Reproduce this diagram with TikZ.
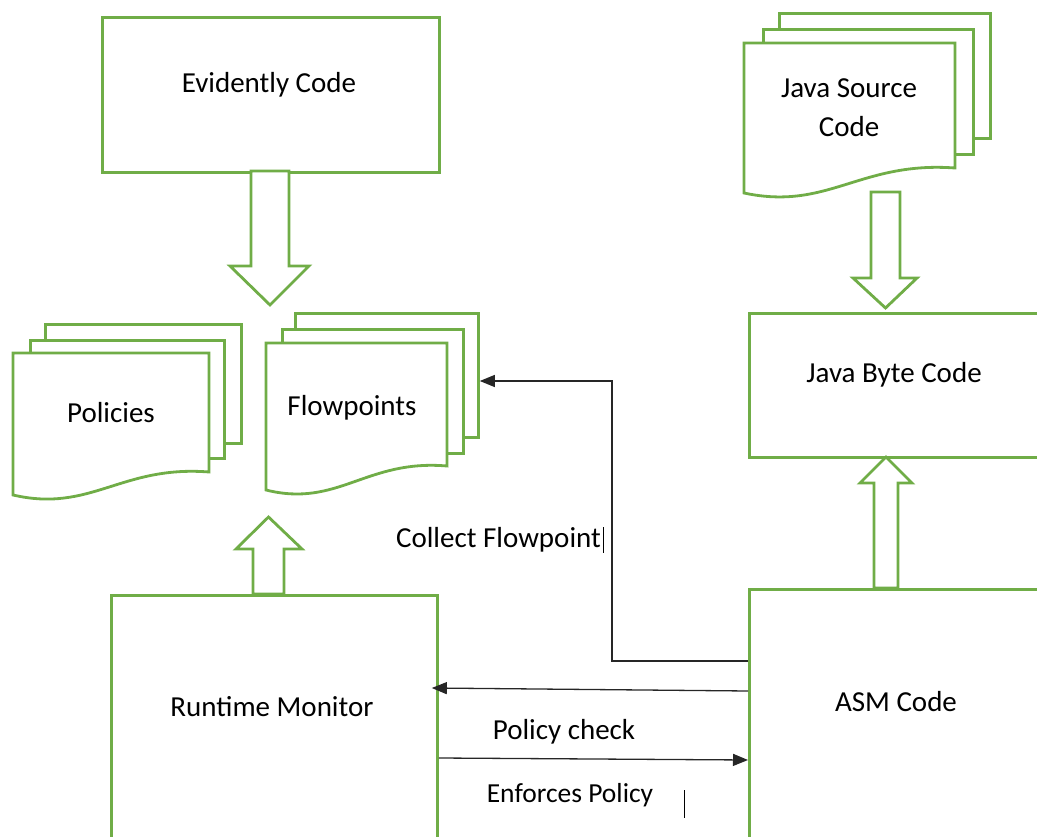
\documentclass[tikz,border=0pt]{standalone}
\usepackage{fontspec}
\setmainfont{Carlito}
\usetikzlibrary{arrows.meta,calc}
\definecolor{offgreen}{HTML}{70AD47}
\begin{document}
\begin{tikzpicture}[x=1pt,y=-1pt,
  gbox/.style={draw=offgreen, line width=2.8pt, fill=white, rectangle, inner sep=0pt, anchor=north west},
  lbl/.style={font=\fontsize{29}{34}\selectfont, text height=19pt, text depth=0pt, inner sep=0pt},
  smlbl/.style={font=\fontsize{27.5}{32}\selectfont, text height=18pt, text depth=0pt, inner sep=0pt},
  blk/.style={draw=offgreen, line width=2.8pt, fill=white, line join=miter},
  conn/.style={draw=black!85, line width=1.3pt},
  endtip/.style={-{Triangle[length=15pt,width=12pt]}},
  caretbar/.style={draw=black, line width=1pt}]
\useasboundingbox (0,0) rectangle (1037,837);
\clip (0,0) rectangle (1037,837);

% main boxes
\node[gbox, minimum width=337pt, minimum height=155pt] (ev) at (101,16) {};
\node[gbox, minimum width=400pt, minimum height=144pt] (jbc) at (748,312) {};
\node[gbox, minimum width=400pt, minimum height=400pt] (asm) at (748,588) {};
\node[gbox, minimum width=326pt, minimum height=400pt] (rt) at (110,594) {};

% Policies stack
\node[gbox, minimum width=196pt, minimum height=119pt] (pol3) at (44,323) {};
\node[gbox, minimum width=194pt, minimum height=118pt] (pol2) at (29,339) {};
\draw[blk] (13,495) -- (13,353) -- (209,353) -- (209,472) .. controls (121,465) and (91,513) .. (13,495) -- cycle;

% Flowpoints stack
\node[gbox, minimum width=183pt, minimum height=124pt] (fp3) at (294,312) {};
\node[gbox, minimum width=181pt, minimum height=124pt] (fp2) at (281,328) {};
\draw[blk] (266,490) -- (266,343) -- (447,343) -- (447,466) .. controls (366,459) and (338,508) .. (266,490) -- cycle;

% Java source stack
\node[gbox, minimum width=211pt, minimum height=125pt] (js3) at (778,12) {};
\node[gbox, minimum width=210pt, minimum height=125pt] (js2) at (762,28) {};
\draw[blk] (744,193) -- (744,43) -- (955,43) -- (955,168) .. controls (860,161) and (828,211) .. (744,193) -- cycle;

% block arrows
\draw[blk] (251,171) -- (251,266) -- (230,266) -- (270,305) -- (309,266) -- (289,266) -- (289,171) -- cycle;
\draw[blk] (871,192) -- (871,278) -- (853,278) -- (885.5,308) -- (917,278) -- (900,278) -- (900,192) -- cycle;
\draw[blk] (874,588) -- (874,483) -- (860,483) -- (886,457) -- (912,483) -- (898,483) -- (898,588) -- cycle;
\draw[blk] (253,594) -- (253,549) -- (236,549) -- (268.5,517) -- (302,549) -- (284,549) -- (284,594) -- cycle;

% labels
\node[lbl] (evt) at (269,83) {Evidently Code};
\node[lbl] (polt) at (111,413) {Policies};
\node[lbl] (fpt) at (352,406) {Flowpoints};
\node[lbl] (jst1) at (849,88) {Java Source};
\node[lbl] (jst2) at (849,127) {Code};
\node[lbl] (jbct) at (894,373) {Java Byte Code};
\node[lbl] (rtt) at (272,707) {Runtime Monitor};
\node[lbl] (asmt) at (896,702) {ASM Code};
\node[lbl] (cft) at (498.5,538) {Collect Flowpoint};
\node[lbl] (pct) at (564,730) {Policy check};
\node[smlbl] (ept) at (570,793) {Enforces Policy};

% connectors
\draw[conn,endtip] (asm.west |- 0,661) -| (612,381) -- (fp3.east |- 0,381);
\draw[conn,endtip] (asm.west |- 0,691) -- ($(rt.east |- 0,688)+(-7,0)$);
\draw[conn,endtip] (rt.east |- 0,758) -- (asm.west |- 0,760);

% text cursors
\draw[caretbar] (603,527) -- (603,553);
\draw[caretbar] (684,790) -- (684,818);
\end{tikzpicture}
\end{document}
